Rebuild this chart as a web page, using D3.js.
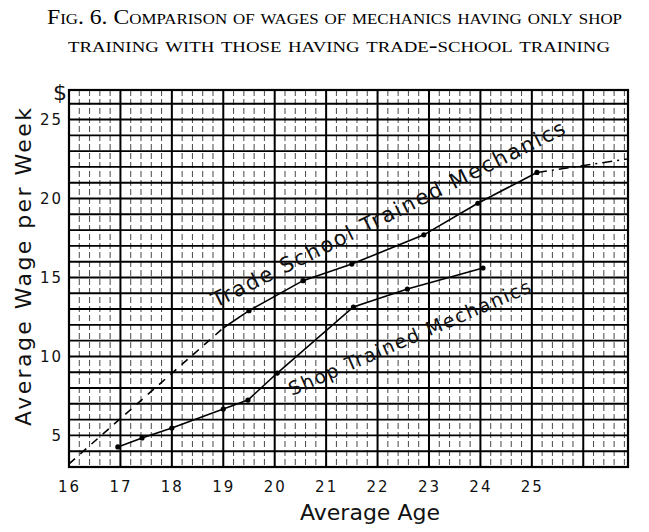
<!DOCTYPE html>
<html>
<head>
<meta charset="utf-8">
<script src="https://cdn.jsdelivr.net/npm/d3@7"></script>
<style>
  body { margin: 0; background: #fff; }
  svg { display: block; }
  .hand { font-family: "DejaVu Sans", sans-serif; fill: #111; }
</style>
</head>
<body>
<div id="chart"></div>
<script>
// values
const ageTicks = [16, 17, 18, 19, 20, 21, 22, 23, 24, 25];
const wageTicks = [5, 10, 15, 20, 25];

// trade-school mechanics: dashed lead-in, plotted line, dash-dot extension
const tradeLeadAge = [16.0, 19.0];
const tradeLeadWage = [3.2, 11.8];
const tradeAge = [19.0, 19.5, 20.55, 21.5, 22.9, 23.95, 25.1];
const tradeWage = [11.8, 12.9, 14.8, 15.85, 17.7, 19.7, 21.65];
const tradePoints = [false, true, true, true, true, true, true];
const tradeTailAge = [25.1, 26.85];
const tradeTailWage = [21.65, 22.5];

// shop-trained mechanics
const shopAge = [16.95, 17.42, 18.0, 19.0, 19.48, 20.05, 21.53, 22.58, 24.05];
const shopWage = [4.27, 4.84, 5.47, 6.67, 7.24, 8.95, 13.13, 14.27, 15.6];

const titleLines = [
  "Fig. 6.  Comparison of wages of mechanics having only shop",
  "training with those having trade-school training"
];

const W = 649, H = 532;
const svg = d3.select("#chart").append("svg")
  .attr("width", W).attr("height", H);

const x = d3.scaleLinear().domain([16, 26.87]).range([69, 628]);
const y = d3.scaleLinear().domain([3, 26.87]).range([467, 90]);

// title, small caps serif
svg.append("text")
  .attr("x", 47).attr("y", 24)
  .attr("textLength", 575).attr("lengthAdjust", "spacingAndGlyphs")
  .style("font-family", "'Liberation Serif', serif")
  .style("font-variant", "small-caps")
  .style("font-size", "21px")
  .text(titleLines[0]);
svg.append("text")
  .attr("x", 68).attr("y", 52)
  .attr("textLength", 542).attr("lengthAdjust", "spacingAndGlyphs")
  .style("font-family", "'Liberation Serif', serif")
  .style("font-variant", "small-caps")
  .style("font-size", "21px")
  .text(titleLines[1]);

// grid paper
const grid = svg.append("g");
const minor = d3.range(16, 26.85, 0.2).filter(v => Math.abs(v - Math.round(v)) > 0.01);
grid.selectAll(".vminor").data(minor).enter().append("line")
  .attr("x1", d => x(d)).attr("x2", d => x(d))
  .attr("y1", y(26.87)).attr("y2", y(3))
  .attr("stroke", "#333").attr("stroke-width", 0.9)
  .attr("stroke-dasharray", "6,3");
grid.selectAll(".vmajor").data(d3.range(17, 27)).enter().append("line")
  .attr("x1", d => x(d)).attr("x2", d => x(d))
  .attr("y1", y(26.87)).attr("y2", y(3))
  .attr("stroke", "#000").attr("stroke-width", 2);
grid.selectAll(".h").data(d3.range(4, 27)).enter().append("line")
  .attr("x1", x(16)).attr("x2", x(26.87))
  .attr("y1", d => y(d)).attr("y2", d => y(d))
  .attr("stroke", "#000").attr("stroke-width", 1.9);
grid.append("rect")
  .attr("x", x(16)).attr("y", y(26.87))
  .attr("width", x(26.87) - x(16)).attr("height", y(3) - y(26.87))
  .attr("fill", "none").attr("stroke", "#000").attr("stroke-width", 2.2);

// axes (labels only)
const xAxis = svg.append("g")
  .attr("transform", `translate(0,${y(3)})`)
  .call(d3.axisBottom(x).tickValues(ageTicks).tickSize(0).tickPadding(14).tickFormat(d3.format("d")));
const yAxis = svg.append("g")
  .attr("transform", `translate(${x(16)},0)`)
  .call(d3.axisLeft(y).tickValues(wageTicks).tickSize(0).tickPadding(6).tickFormat(d3.format("d")));
[xAxis, yAxis].forEach(a => {
  a.select(".domain").remove();
  a.selectAll("text").attr("class", "hand")
    .style("font-size", "15px").style("letter-spacing", "2px");
});

svg.append("text").attr("class", "hand")
  .attr("x", 60).attr("y", 100).attr("text-anchor", "middle")
  .style("font-size", "22px").text("$");

svg.append("text").attr("class", "hand")
  .attr("transform", "translate(31,267) rotate(-90)")
  .attr("text-anchor", "middle")
  .attr("textLength", 318).attr("lengthAdjust", "spacing")
  .style("font-size", "22px")
  .text("Average Wage per Week");

svg.append("text").attr("class", "hand")
  .attr("x", 370).attr("y", 520).attr("text-anchor", "middle")
  .attr("textLength", 140).attr("lengthAdjust", "spacing")
  .style("font-size", "22px")
  .text("Average Age");

// curves
const line = d3.line().x(d => x(d[0])).y(d => y(d[1]));
const plot = svg.append("g").attr("fill", "none").attr("stroke", "#000").attr("stroke-width", 1.6);

plot.append("path").datum(d3.zip(tradeLeadAge, tradeLeadWage))
  .attr("d", line).attr("stroke-dasharray", "8,7");
plot.append("path").datum(d3.zip(tradeAge, tradeWage)).attr("d", line);
plot.append("path").datum(d3.zip(tradeTailAge, tradeTailWage))
  .attr("d", line).attr("stroke-dasharray", "10,5,2,5");
plot.append("path").datum(d3.zip(shopAge, shopWage)).attr("d", line);

svg.selectAll(".tdot").data(d3.zip(tradeAge, tradeWage).filter((d, i) => tradePoints[i]))
  .enter().append("circle")
  .attr("cx", d => x(d[0])).attr("cy", d => y(d[1])).attr("r", 2.6).attr("fill", "#000");
svg.selectAll(".sdot").data(d3.zip(shopAge, shopWage))
  .enter().append("circle")
  .attr("cx", d => x(d[0])).attr("cy", d => y(d[1])).attr("r", 2.6).attr("fill", "#000");

// curve labels written along the lines
svg.append("text").attr("class", "hand")
  .attr("transform", "translate(216,308) rotate(-26.5)")
  .attr("textLength", 392).attr("lengthAdjust", "spacing")
  .style("font-size", "21px")
  .text("Trade School Trained Mechanics");
svg.append("text").attr("class", "hand")
  .attr("transform", "translate(292,396) rotate(-23.5)")
  .attr("textLength", 262).attr("lengthAdjust", "spacing")
  .style("font-size", "19px")
  .text("Shop Trained Mechanics");
</script>
</body>
</html>
